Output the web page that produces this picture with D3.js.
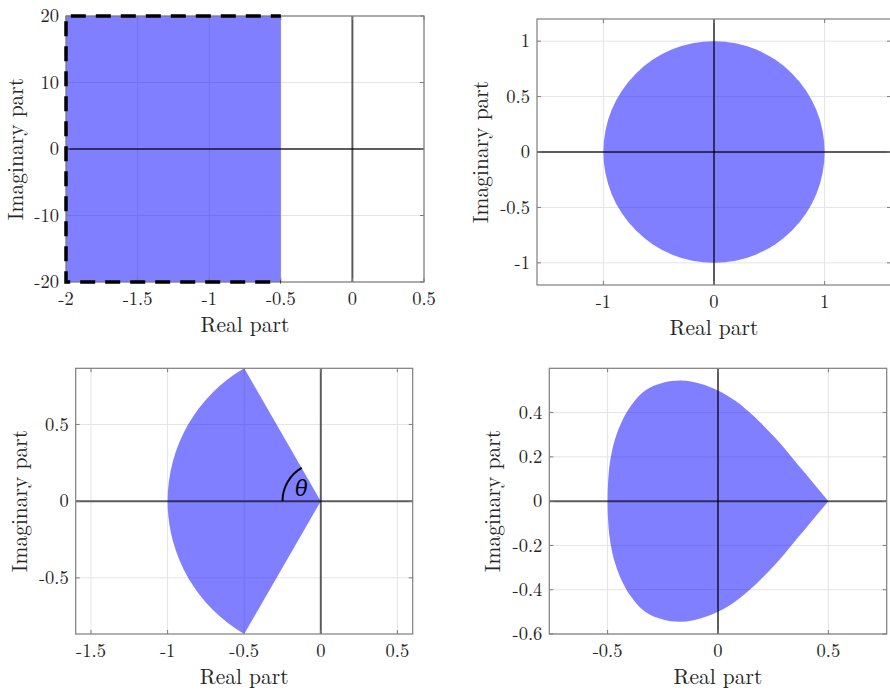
<!DOCTYPE html>
<html>
<head>
<meta charset="utf-8">
<script src="https://cdn.jsdelivr.net/npm/d3@7"></script>
<style>
  body { margin: 0; background: #fff; }
  svg { display: block; }
</style>
</head>
<body>
<div id="chart"></div>
<script>
// ---- data ----
// panel 1: strip Re < -0.5
const p1XTicks = [-2, -1.5, -1, -0.5, 0, 0.5];
const p1YTicks = [-20, -10, 0, 10, 20];
const stripReal = [-2, -0.5];
const stripImag = [-20, 20];

// panel 2: unit disc
const p2XTicks = [-1, 0, 1];
const p2YTicks = [-1, -0.5, 0, 0.5, 1];
const discCenter = [0, 0];
const discRadius = 1;

// panel 3: sector of half-angle theta around the negative real axis
const p3XTicks = [-1.5, -1, -0.5, 0, 0.5];
const p3YTicks = [-0.5, 0, 0.5];
const sectorRadius = 1;
const sectorTheta = 60;       // degrees
const thetaArcRadius = 0.25;
const thetaLabelPos = [-0.13, 0.085];

// panel 4: teardrop region (upper boundary, from the cusp to the left end)
const p4XTicks = [-0.5, 0, 0.5];
const p4YTicks = [-0.6, -0.4, -0.2, 0, 0.2, 0.4];
const dropReal = [0.5, 0.454, 0.408, 0.349, 0.26, 0.155, 0.08, 0, -0.08, -0.166, -0.25, -0.33, -0.395, -0.44, -0.472, -0.49, -0.498, -0.5];
const dropImag = [0, 0.055, 0.11, 0.18, 0.285, 0.39, 0.452, 0.5, 0.53, 0.545, 0.535, 0.5, 0.43, 0.35, 0.26, 0.17, 0.08, 0];

const W = 890, H = 693;
const svg = d3.select("#chart").append("svg")
    .attr("width", W).attr("height", H)
    .attr("font-family", "'Latin Modern Roman', 'Liberation Serif', serif")
    .attr("fill", "#262626");

const FILL = "#0000ff", FILL_OP = 0.5;
const GRID = "#e4e4e4", BOX = "#7d7d7d";

// Dựng một khung trục kiểu MATLAB
function makePanel(id, box, xDom, yDom, xTicks, yTicks, yLabelOff) {
    const x = d3.scaleLinear().domain(xDom).range([box.left, box.right]);
    const y = d3.scaleLinear().domain(yDom).range([box.bottom, box.top]);
    const g = svg.append("g");

    svg.append("clipPath").attr("id", "clip" + id)
        .append("rect")
        .attr("x", box.left).attr("y", box.top)
        .attr("width", box.right - box.left).attr("height", box.bottom - box.top);

    // lưới
    g.append("g").selectAll("line").data(xTicks).join("line")
        .attr("x1", d => x(d)).attr("x2", d => x(d))
        .attr("y1", box.top).attr("y2", box.bottom)
        .attr("stroke", GRID).attr("stroke-width", 1);
    g.append("g").selectAll("line").data(yTicks).join("line")
        .attr("y1", d => y(d)).attr("y2", d => y(d))
        .attr("x1", box.left).attr("x2", box.right)
        .attr("stroke", GRID).attr("stroke-width", 1);

    const plot = g.append("g").attr("clip-path", `url(#clip${id})`);
    const over = g.append("g");

    // nhãn vạch chia
    g.append("g").selectAll("text").data(xTicks).join("text")
        .attr("x", d => x(d)).attr("y", box.bottom + 23)
        .attr("text-anchor", "middle").attr("font-size", 18.5)
        .text(d => String(d));
    g.append("g").selectAll("text").data(yTicks).join("text")
        .attr("x", box.left - 7).attr("y", d => y(d)).attr("dy", "0.33em")
        .attr("text-anchor", "end").attr("font-size", 18.5)
        .text(d => String(d));

    // tên trục
    g.append("text")
        .attr("x", (box.left + box.right) / 2).attr("y", box.bottom + 50)
        .attr("text-anchor", "middle").attr("font-size", 21.5)
        .text("Real part");
    g.append("text")
        .attr("transform", `translate(${box.left - yLabelOff},${(box.top + box.bottom) / 2}) rotate(-90)`)
        .attr("text-anchor", "middle").attr("font-size", 21.5)
        .text("Imaginary part");

    return { x, y, box, plot, over, xTicks, yTicks };
}

// Trục qua gốc, vạch chia và khung
function finishPanel(p) {
    const { x, y, box, over, xTicks, yTicks } = p;
    over.append("line")
        .attr("x1", x(0)).attr("x2", x(0)).attr("y1", box.top).attr("y2", box.bottom)
        .attr("stroke", "#000").attr("stroke-opacity", 0.62).attr("stroke-width", 2);
    over.append("line")
        .attr("y1", y(0)).attr("y2", y(0)).attr("x1", box.left).attr("x2", box.right)
        .attr("stroke", "#000").attr("stroke-opacity", 0.62).attr("stroke-width", 2);

    const t = 4;
    over.append("g").selectAll("path").data(xTicks).join("path")
        .attr("d", d => `M${x(d)},${box.bottom}v${-t}M${x(d)},${box.top}v${t}`)
        .attr("stroke", BOX).attr("stroke-width", 1);
    over.append("g").selectAll("path").data(yTicks).join("path")
        .attr("d", d => `M${box.left},${y(d)}h${t}M${box.right},${y(d)}h${-t}`)
        .attr("stroke", BOX).attr("stroke-width", 1);

    over.append("rect")
        .attr("x", box.left).attr("y", box.top)
        .attr("width", box.right - box.left).attr("height", box.bottom - box.top)
        .attr("fill", "none").attr("stroke", BOX).attr("stroke-width", 1.2);
}

// ---------- panel 1 ----------
const p1 = makePanel(1, { left: 66, right: 424, top: 16, bottom: 282 },
    [-2, 0.5], [-20, 20], p1XTicks, p1YTicks, 43);
p1.plot.append("rect")
    .attr("x", p1.x(stripReal[0])).attr("y", p1.y(stripImag[1]))
    .attr("width", p1.x(stripReal[1]) - p1.x(stripReal[0]))
    .attr("height", p1.y(stripImag[0]) - p1.y(stripImag[1]))
    .attr("fill", FILL).attr("fill-opacity", FILL_OP);
finishPanel(p1);
p1.over.append("path")
    .attr("d", d3.line()([
        [p1.x(stripReal[1]), p1.y(stripImag[1])],
        [p1.x(stripReal[0]), p1.y(stripImag[1])],
        [p1.x(stripReal[0]), p1.y(stripImag[0])],
        [p1.x(stripReal[1]), p1.y(stripImag[0])]
    ]))
    .attr("fill", "none").attr("stroke", "#000").attr("stroke-width", 3.5)
    .attr("stroke-dasharray", "15,10").attr("stroke-dashoffset", 5);

// ---------- panel 2 ----------
const p2 = makePanel(2, { left: 537, right: 891, top: 19, bottom: 285 },
    [-1.6, 1.6], [-1.2, 1.2], p2XTicks, p2YTicks, 49);
p2.plot.append("ellipse")
    .attr("cx", p2.x(discCenter[0])).attr("cy", p2.y(discCenter[1]))
    .attr("rx", p2.x(discRadius) - p2.x(0)).attr("ry", p2.y(0) - p2.y(discRadius))
    .attr("fill", FILL).attr("fill-opacity", FILL_OP);
finishPanel(p2);

// ---------- panel 3 ----------
const p3 = makePanel(3, { left: 75.7, right: 412.7, top: 368.3, bottom: 634 },
    [-1.6, 0.6], [-0.866, 0.866], p3XTicks, p3YTicks, 49);
const a3 = (180 - sectorTheta) * Math.PI / 180;
{
    const rx = p3.x(sectorRadius) - p3.x(0), ry = p3.y(0) - p3.y(sectorRadius);
    const cx = sectorRadius * Math.cos(a3), cy = sectorRadius * Math.sin(a3);
    p3.plot.append("path")
        .attr("d", `M${p3.x(0)},${p3.y(0)}L${p3.x(cx)},${p3.y(cy)}` +
            `A${rx},${ry} 0 0 0 ${p3.x(cx)},${p3.y(-cy)}Z`)
        .attr("fill", FILL).attr("fill-opacity", FILL_OP);
}
finishPanel(p3);
{
    const rx = p3.x(thetaArcRadius) - p3.x(0), ry = p3.y(0) - p3.y(thetaArcRadius);
    p3.over.append("path")
        .attr("d", `M${p3.x(-thetaArcRadius)},${p3.y(0)}` +
            `A${rx},${ry} 0 0 1 ${p3.x(thetaArcRadius * Math.cos(a3))},${p3.y(thetaArcRadius * Math.sin(a3))}`)
        .attr("fill", "none").attr("stroke", "#000").attr("stroke-width", 2);
    p3.over.append("text")
        .attr("x", p3.x(thetaLabelPos[0])).attr("y", p3.y(thetaLabelPos[1])).attr("dy", "0.35em")
        .attr("text-anchor", "middle")
        .attr("font-family", "'Noto Serif', 'Liberation Serif', serif")
        .attr("font-size", 22).attr("font-style", "italic").attr("fill", "#000")
        .text("θ");
}

// ---------- panel 4 ----------
const p4 = makePanel(4, { left: 549.3, right: 886.7, top: 368.3, bottom: 634 },
    [-0.764, 0.764], [-0.6, 0.6], p4XTicks, p4YTicks, 49);
{
    const upper = dropReal.map((r, i) => [r, dropImag[i]]);
    const lower = upper.slice(0, -1).reverse().map(([r, im]) => [r, -im]);
    const line = d3.line()
        .x(d => p4.x(d[0])).y(d => p4.y(d[1]))
        .curve(d3.curveCatmullRom.alpha(0.5));
    p4.plot.append("path")
        .attr("d", line(upper.concat(lower)) + "Z")
        .attr("fill", FILL).attr("fill-opacity", FILL_OP);
}
finishPanel(p4);
</script>
</body>
</html>
